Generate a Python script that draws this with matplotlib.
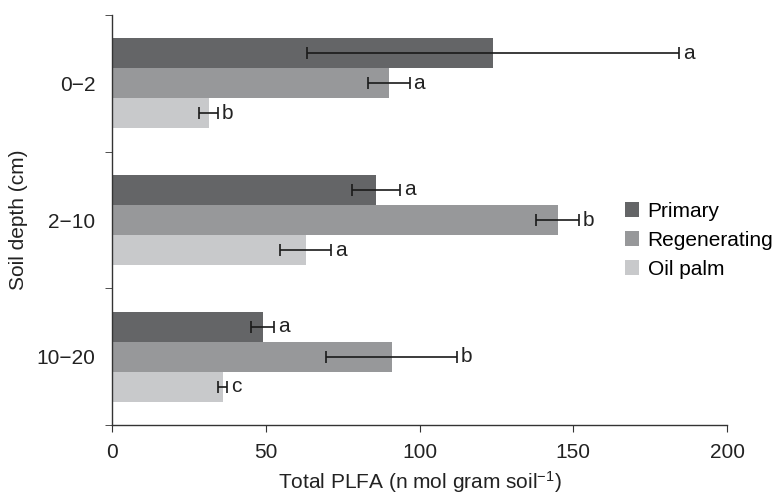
import numpy as np
import matplotlib
matplotlib.use("Agg")
import matplotlib.pyplot as plt

plt.rcParams['font.family'] = ['Liberation Sans', 'DejaVu Sans']
plt.rcParams['mathtext.fontset'] = 'custom'
plt.rcParams['mathtext.rm'] = 'Liberation Sans'
plt.rcParams['mathtext.it'] = 'Liberation Sans'

# data
depths = ['0\u22122', '2\u221210', '10\u221220']
series = ['Primary', 'Regenerating', 'Oil palm']
primary = [124, 86, 49]
primary_err = [60.5, 7.8, 3.8]
regenerating = [90, 145, 91]
regenerating_err = [6.8, 7, 21.3]
oil_palm = [31.5, 63, 36]
oil_palm_err = [3.1, 8.3, 1.5]
primary_lab = ['a', 'a', 'a']
regenerating_lab = ['a', 'b', 'b']
oil_palm_lab = ['b', 'a', 'c']

colors = ['#646567', '#97989a', '#c8c9cb']
fs = 15

fig = plt.figure(figsize=(7.73, 4.96), dpi=100)
ax = fig.add_axes([0.1449, 0.1431, 0.7956, 0.8267])

y = np.arange(len(depths))
h = 0.22
vals = [primary, regenerating, oil_palm]
errs = [primary_err, regenerating_err, oil_palm_err]
labs = [primary_lab, regenerating_lab, oil_palm_lab]

for i in range(3):
    pos = y + (i - 1) * h
    ax.barh(pos, vals[i], height=h, color=colors[i], label=series[i])
    ax.errorbar(vals[i], pos, xerr=errs[i], fmt='none', ecolor='#1a1a1a',
                elinewidth=1.2, capsize=4.5, capthick=1.2)
    for v, e, p, t in zip(vals[i], errs[i], pos, labs[i]):
        ax.text(v + e + 1.2, p, t, va='center', ha='left', fontsize=fs, color='#222222')

ax.set_xlim(0, 200)
ax.set_ylim(2.5, -0.5)
ax.set_xticks([0, 50, 100, 150, 200])
ax.set_yticks(y)
ax.set_yticklabels(depths)
ax.set_yticks([-0.5, 0.5, 1.5, 2.5], minor=True)
ax.tick_params(axis='y', which='major', length=0, pad=12, labelsize=fs, colors='#222222')
ax.tick_params(axis='y', which='minor', length=5, direction='out', color='#333333')
ax.tick_params(axis='x', length=5, direction='out', labelsize=fs, pad=8, color='#333333', labelcolor='#222222')

for s in ['top', 'right']:
    ax.spines[s].set_visible(False)
for s in ['left', 'bottom']:
    ax.spines[s].set_color('#333333')
    ax.spines[s].set_linewidth(1.0)

ax.set_xlabel('Total PLFA (n mol gram soil$^{-1}$)', fontsize=fs, color='#222222', labelpad=5)
ax.set_ylabel('Soil depth (cm)', fontsize=fs, color='#222222', labelpad=6)

leg = ax.legend(loc='center left', bbox_to_anchor=(0.803, 0.451), frameon=False, fontsize=fs,
                handlelength=0.7, handleheight=0.7, handletextpad=0.4, labelspacing=0.48)

fig.savefig('out.png', dpi=100)
